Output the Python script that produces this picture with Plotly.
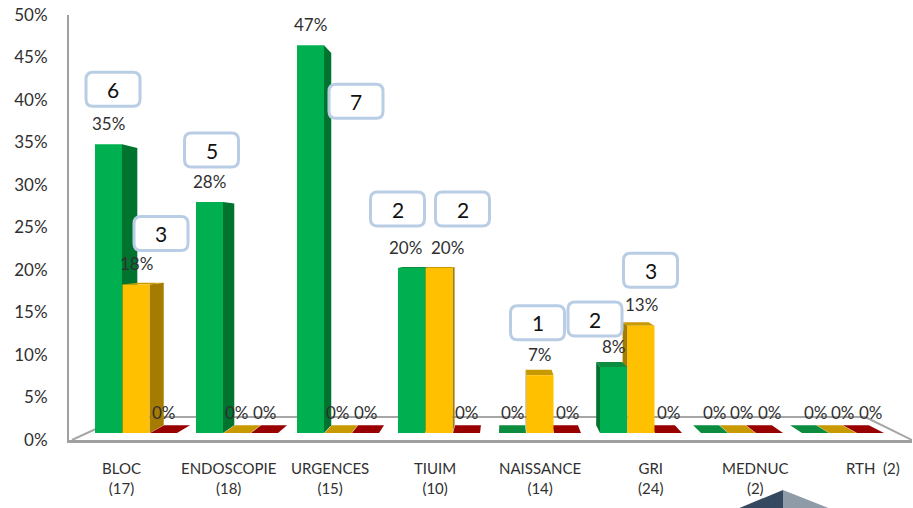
import plotly.graph_objects as go

# ---- data -------------------------------------------------------------
categories = ["BLOC", "ENDOSCOPIE", "URGENCES", "TIUIM", "NAISSANCE", "GRI", "MEDNUC", "RTH"]
totals = [17, 18, 15, 10, 14, 24, 2, 2]

green_pct = [35, 28, 47, 20, 0, 8, 0, 0]
yellow_pct = [18, 0, 0, 20, 7, 13, 0, 0]
red_pct = [0, 0, 0, 0, 0, 0, 0, 0]

# counts shown in the callout boxes: (category index, series index, count)
callouts = [(0, 0, 6), (0, 1, 3), (1, 0, 5), (2, 0, 7), (3, 0, 2), (3, 1, 2),
            (4, 1, 1), (5, 0, 2), (5, 1, 3)]

y_ticks = list(range(0, 55, 5))

# ---- layout / style ----------------------------------------------------
W, H = 913, 508
ML, MR, MT, MB = 69, 1, 15, 68
PX_PER_CAT = 101.0          # horizontal pixels per category
X0_PX = 136.0               # pixel position of category 0 (middle bar)
BASE_PX = 433.0             # pixel row of the bars' front base
PX_PER_PCT = 8.25           # bar scale

plot_w = W - ML - MR
x_range = [(ML - X0_PX) / PX_PER_CAT, (W - MR - X0_PX) / PX_PER_CAT]
y_range = [(BASE_PX - (H - MB)) / PX_PER_PCT, (BASE_PX - MT) / PX_PER_PCT]

bar_w = 27.0 / PX_PER_CAT
series_offset = [-27.5 / PX_PER_CAT, 0.0, 27.5 / PX_PER_CAT]

series = [
    dict(name="vert", values=green_pct, front="#00B050", side="#00742F", top="#0B8C3F"),
    dict(name="jaune", values=yellow_pct, front="#FFC000", side="#A67C00", top="#C99A00"),
    dict(name="rouge", values=red_pct, front="#C00000", side="#7A0000", top="#990000"),
]

# perspective: vanishing point (data units) and depth factors
VX = (505 - X0_PX) / PX_PER_CAT
VY = (BASE_PX - 240) / PX_PER_PCT
BAR_DEPTH = 0.04
FLOOR_DEPTH = 0.115

FONT = "Lato, 'Open Sans', sans-serif"


def recede(x, y, k):
    return x + k * (VX - x), y + k * (VY - y)


def poly(points):
    return "M " + " L ".join(f"{x:.5f},{y:.5f}" for x, y in points) + " Z"


fig = go.Figure()
shapes = []
annotations = []

# floor outline (back edge and side edges)
fx0, fx1, fy = x_range[0] + 3 / PX_PER_CAT, x_range[1], y_range[0]
bl = recede(fx0, fy, FLOOR_DEPTH)
br = recede(fx1, fy, FLOOR_DEPTH)
floor_line = dict(color="#A6A6A6", width=2)
for a, b in [((fx0, fy), bl), (bl, br), (br, (fx1, fy))]:
    shapes.append(dict(type="line", xref="x", yref="y", x0=a[0], y0=a[1], x1=b[0], y1=b[1],
                       line=floor_line, layer="below"))

# 3D side and top faces of the bars
for i in range(len(categories)):
    order = sorted(range(3), key=lambda j: -abs(i + series_offset[j] - VX))
    for j in order:
        s = series[j]
        v = s["values"][i]
        c = i + series_offset[j]
        xl, xr = c - bar_w / 2, c + bar_w / 2
        if v > 0:
            edge = xr if xr < VX else (xl if xl > VX else None)
            if edge is not None:
                pts = [(edge, 0), (edge, v), recede(edge, v, BAR_DEPTH), recede(edge, 0, BAR_DEPTH)]
                shapes.append(dict(type="path", xref="x", yref="y", path=poly(pts),
                                   fillcolor=s["side"], line=dict(width=0), layer="below"))
        if v < VY:
            pts = [(xl, v), (xr, v), recede(xr, v, BAR_DEPTH), recede(xl, v, BAR_DEPTH)]
            shapes.append(dict(type="path", xref="x", yref="y", path=poly(pts),
                               fillcolor=s["top"], line=dict(width=0), layer="below"))

# front faces of the bars
for j, s in enumerate(series):
    fig.add_trace(go.Bar(
        x=[i + series_offset[j] for i in range(len(categories))],
        y=s["values"],
        width=bar_w,
        name=s["name"],
        marker=dict(color=s["front"], line=dict(width=0)),
        hoverinfo="skip",
        showlegend=False,
    ))

# value labels
label_font = dict(family=FONT, size=17, color="#303030")
label_nudge = {(3, 0): -6, (3, 1): 8}
for j, s in enumerate(series):
    for i, v in enumerate(s["values"]):
        annotations.append(dict(x=i + series_offset[j], y=v, xref="x", yref="y",
                                text=f"{v}%", showarrow=False, yshift=21,
                                xshift=label_nudge.get((i, j), 0), font=label_font))

# callout boxes with counts (pixel offsets from the bar top)
box_offsets = {(0, 0): (4.5, -55), (0, 1): (25, -51), (1, 0): (2, -52),
               (2, 0): (45.5, 56), (3, 0): (-14, -59), (3, 1): (23.5, -59),
               (4, 1): (-2.5, -52.5), (5, 0): (-18.5, -48), (5, 1): (9.5, -55.5)}
BOX_W, BOX_H, R = 54, 34, 7


def rounded_rect(cx, cy, w, h, r):
    # pixel coordinates, y pointing up
    x0, x1 = cx - w / 2, cx + w / 2
    y0, y1 = cy - h / 2, cy + h / 2
    return (f"M {x0 + r},{y0} L {x1 - r},{y0} Q {x1},{y0} {x1},{y0 + r} "
            f"L {x1},{y1 - r} Q {x1},{y1} {x1 - r},{y1} L {x0 + r},{y1} "
            f"Q {x0},{y1} {x0},{y1 - r} L {x0},{y0 + r} Q {x0},{y0} {x0 + r},{y0} Z")


for i, j, n in callouts:
    v = series[j]["values"][i]
    c = i + series_offset[j]
    dx, dy = box_offsets[(i, j)]
    shapes.append(dict(type="path", xref="x", yref="y", xsizemode="pixel", ysizemode="pixel",
                       xanchor=c, yanchor=v, path=rounded_rect(dx, -dy, BOX_W, BOX_H, R),
                       fillcolor="white", line=dict(color="#B9CDE5", width=3), layer="above"))
    annotations.append(dict(x=c, y=v, xref="x", yref="y", text=str(n), showarrow=False,
                            xshift=dx, yshift=-dy,
                            font=dict(family=FONT, size=21, color="#111111")))

# category labels under the floor
label_shift = [-15, -9, -8, -4, 0, 9, 13, 30]
label_sep = ["<br>"] * 7 + ["\u00a0\u00a0"]
cat_font = dict(family=FONT, size=15, color="#303030")
for i, (cat, n) in enumerate(zip(categories, totals)):
    annotations.append(dict(x=i, y=0, xref="x", yref="paper", yanchor="top",
                            text=f"{cat}{label_sep[i]}({n})", showarrow=False,
                            xshift=label_shift[i], yshift=-17, font=cat_font))


# small pyramid ornament at the bottom edge
def px_x(p):
    return (p - ML) / plot_w


def px_y(p):
    return ((H - MB) - p) / (H - MT - MB)


peak = (783, 490)
shapes.append(dict(type="path", xref="paper", yref="paper",
                   path=poly([(px_x(737), px_y(509)), (px_x(peak[0]), px_y(peak[1])), (px_x(peak[0]), px_y(509))]),
                   fillcolor="#34495F", line=dict(width=0), layer="above"))
shapes.append(dict(type="path", xref="paper", yref="paper",
                   path=poly([(px_x(peak[0]), px_y(peak[1])), (px_x(831), px_y(509)), (px_x(peak[0]), px_y(509))]),
                   fillcolor="#8F9CA8", line=dict(width=0), layer="above"))

fig.add_trace(go.Scatter(x=[None], y=[None], yaxis="y2", showlegend=False, hoverinfo="skip"))

fig.update_layout(
    width=W, height=H,
    margin=dict(l=ML, r=MR, t=MT, b=MB, pad=0),
    paper_bgcolor="white",
    plot_bgcolor="rgba(0,0,0,0)",
    barmode="overlay",
    showlegend=False,
    xaxis=dict(range=x_range, showgrid=False, zeroline=False, showticklabels=False,
               ticks="", showline=True, linecolor="#A0A0A0", linewidth=3, fixedrange=True),
    yaxis=dict(range=y_range, visible=False, fixedrange=True),
    yaxis2=dict(range=[0, 50], overlaying="y", side="left", tickmode="array",
                tickvals=y_ticks, ticktext=[f"{t}%" for t in y_ticks],
                showgrid=False, zeroline=False, showline=True,
                linecolor="#A0A0A0", linewidth=2, ticks="", ticklabelstandoff=16,
                tickfont=dict(family=FONT, size=17, color="#303030"),
                fixedrange=True),
    shapes=shapes,
    annotations=annotations,
    font=dict(family=FONT),
)

fig.write_html("out.html")
